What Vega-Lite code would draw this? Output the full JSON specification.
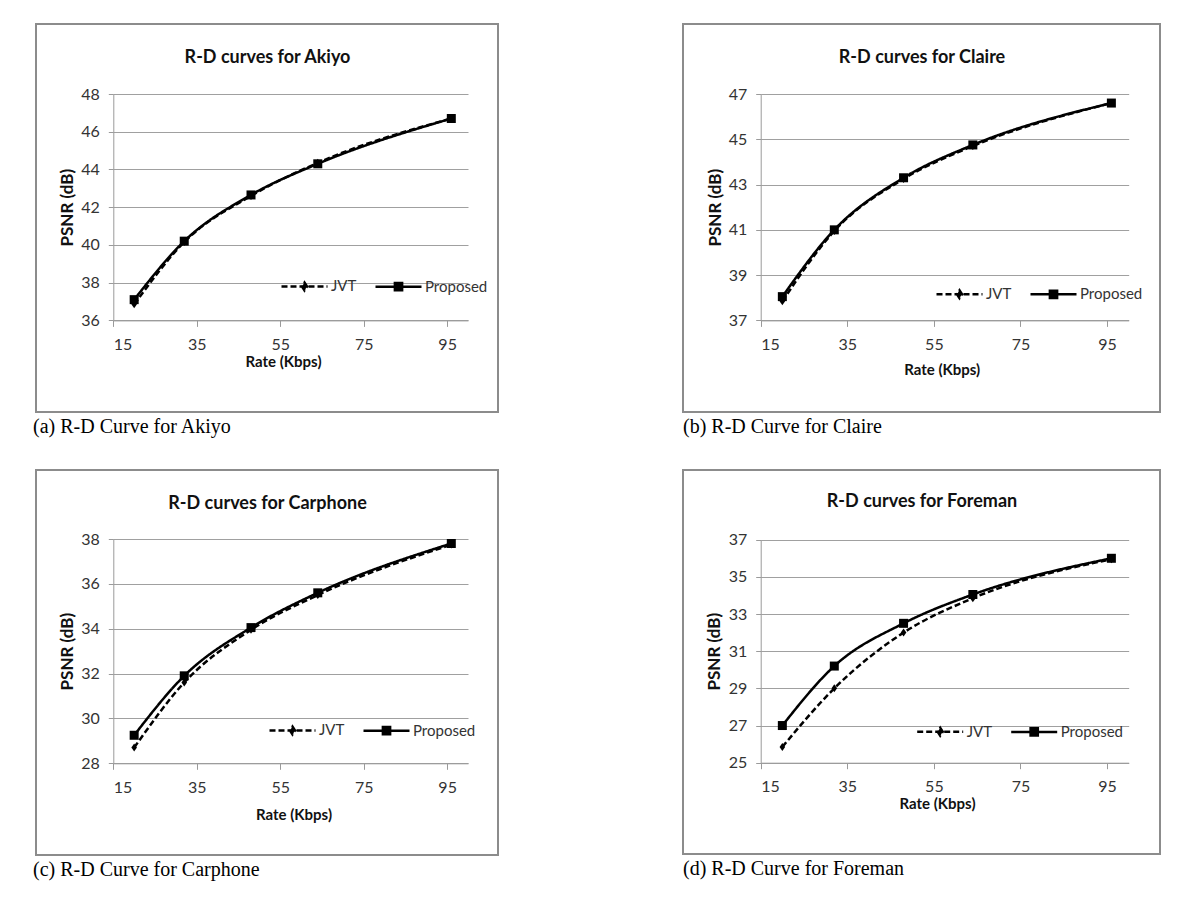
{
  "$schema": "https://vega.github.io/schema/vega-lite/v6.json",
  "background": "white",
  "padding": {"left": 32, "top": 23, "right": 0, "bottom": 0},
  "config": {
    "view": {"stroke": "#8c8c8c", "strokeWidth": 2},
    "axis": {
      "gridColor": "#a0a0a0", "domainColor": "#9a9a9a", "tickColor": "#9a9a9a",
      "labelFont": "Lato", "labelFontSize": 16, "labelColor": "#333333",
      "titleFont": "Lato", "titleFontWeight": "bold", "titleColor": "#111111"
    },
    "legend": {"labelFont": "Lato", "labelFontSize": 15, "labelColor": "#333333"}
  },
  "spacing": 31,
  "resolve": {"scale": {"strokeDash": "independent"}, "legend": {"strokeDash": "independent"}},
  "vconcat": [
    {
      "spacing": 183,
      "resolve": {"scale": {"strokeDash": "independent"}, "legend": {"strokeDash": "independent"}},
      "hconcat": [
        {
          "width": 462, "height": 388,
          "data": {"values": [
            {"rate": 20, "psnr": 36.85, "series": "JVT"},
            {"rate": 32, "psnr": 40.15, "series": "JVT"},
            {"rate": 48, "psnr": 42.6, "series": "JVT"},
            {"rate": 64, "psnr": 44.35, "series": "JVT"},
            {"rate": 96, "psnr": 46.7, "series": "JVT"},
            {"rate": 20, "psnr": 37.1, "series": "Proposed"},
            {"rate": 32, "psnr": 40.2, "series": "Proposed"},
            {"rate": 48, "psnr": 42.65, "series": "Proposed"},
            {"rate": 64, "psnr": 44.3, "series": "Proposed"},
            {"rate": 96, "psnr": 46.7, "series": "Proposed"}
          ]},
          "title": {"text": "(a) R-D Curve for Akiyo", "orient": "bottom", "anchor": "start", "offset": 5, "dx": -3, "font": "Liberation Serif", "fontSize": 20, "fontWeight": "normal", "color": "#000000"},
          "layer": [
            {
              "mark": {"type": "line", "color": "black", "strokeWidth": 2.5, "interpolate": "monotone"},
              "encoding": {
                "x": {"field": "rate", "type": "quantitative",
                  "scale": {"domain": [15, 100], "range": [77.3, 432], "nice": false, "zero": false},
                  "axis": {"orient": "bottom", "offset": -91.6, "values": [15, 35, 55, 75, 95], "grid": false, "tickSize": 6, "labelPadding": 10,
                    "title": "Rate (Kbps)", "titleFontSize": 15, "titleX": 247, "titleY": 46, "titleAlign": "center", "titleBaseline": "alphabetic"}},
                "y": {"field": "psnr", "type": "quantitative",
                  "scale": {"domain": [36, 48], "range": [296.4, 70], "nice": false, "zero": false},
                  "axis": {"offset": -77.3, "values": [36, 38, 40, 42, 44, 46, 48], "grid": true, "tickSize": 5, "labelPadding": 9,
                    "title": "PSNR (dB)", "titleFontSize": 17, "titleX": -36.5, "titleAngle": 270, "titleBaseline": "bottom"}},
                "strokeDash": {"field": "series", "type": "nominal",
                  "scale": {"domain": ["JVT", "Proposed"], "range": [[6, 3], [1, 0]]},
                  "legend": {"title": null, "orient": "none", "legendX": 244, "legendY": 237.7, "direction": "horizontal", "padding": 0,
                    "symbolSize": 2116, "symbolStrokeWidth": 2.5, "symbolStrokeColor": "black", "labelOffset": 2, "columnPadding": 13,
                    "encode": {"symbols": {"update": {
                      "shape": {"signal": "datum.value === 'JVT' ? 'M-1,0L1,0M0,-0.17L0.11,0L0,0.17L-0.11,0Z' : 'M-1,0L1,0M-0.157,-0.157L0.157,-0.157L0.157,0.157L-0.157,0.157Z'"},
                      "fill": {"value": "black"}, "stroke": {"value": "black"}, "opacity": {"value": 1}}}}}}
              }
            },
            {
              "transform": [{"filter": "datum.series === 'JVT'"}],
              "mark": {"type": "point", "filled": true, "color": "black", "size": 64, "opacity": 1, "shape": "M0,-1L0.7,0L0,1L-0.7,0Z"},
              "encoding": {
                "x": {"field": "rate", "type": "quantitative",
                  "axis": {"orient": "top", "labels": false, "ticks": false, "domain": false, "grid": false,
                    "title": "R-D curves for Akiyo", "titleFontSize": 18, "titleX": 231, "titleY": 38.4, "titleAlign": "center", "titleBaseline": "alphabetic", "titleAngle": 0}},
                "y": {"field": "psnr", "type": "quantitative"}
              }
            },
            {
              "transform": [{"filter": "datum.series === 'Proposed'"}],
              "mark": {"type": "point", "filled": true, "color": "black", "size": 81, "opacity": 1, "shape": "square"},
              "encoding": {
                "x": {"field": "rate", "type": "quantitative", "axis": null},
                "y": {"field": "psnr", "type": "quantitative"}
              }
            }
          ],
          "resolve": {"axis": {"x": "independent"}}
        },
        {
          "width": 477, "height": 388,
          "data": {"values": [
            {"rate": 20, "psnr": 37.85, "series": "JVT"},
            {"rate": 32, "psnr": 40.95, "series": "JVT"},
            {"rate": 48, "psnr": 43.25, "series": "JVT"},
            {"rate": 64, "psnr": 44.7, "series": "JVT"},
            {"rate": 96, "psnr": 46.6, "series": "JVT"},
            {"rate": 20, "psnr": 38.05, "series": "Proposed"},
            {"rate": 32, "psnr": 41.0, "series": "Proposed"},
            {"rate": 48, "psnr": 43.3, "series": "Proposed"},
            {"rate": 64, "psnr": 44.75, "series": "Proposed"},
            {"rate": 96, "psnr": 46.6, "series": "Proposed"}
          ]},
          "title": {"text": "(b) R-D Curve for Claire", "orient": "bottom", "anchor": "start", "offset": 5, "font": "Liberation Serif", "fontSize": 20, "fontWeight": "normal", "color": "#000000"},
          "layer": [
            {
              "mark": {"type": "line", "color": "black", "strokeWidth": 2.5, "interpolate": "monotone"},
              "encoding": {
                "x": {"field": "rate", "type": "quantitative",
                  "scale": {"domain": [15, 100], "range": [77.7, 445.7], "nice": false, "zero": false},
                  "axis": {"orient": "bottom", "offset": -91.6, "values": [15, 35, 55, 75, 95], "grid": false, "tickSize": 6, "labelPadding": 10,
                    "title": "Rate (Kbps)", "titleFontSize": 15, "titleX": 258.7, "titleY": 54.3, "titleAlign": "center", "titleBaseline": "alphabetic"}},
                "y": {"field": "psnr", "type": "quantitative",
                  "scale": {"domain": [37, 47], "range": [296.4, 70], "nice": false, "zero": false},
                  "axis": {"offset": -77.7, "values": [37, 39, 41, 43, 45, 47], "grid": true, "tickSize": 5, "labelPadding": 9,
                    "title": "PSNR (dB)", "titleFontSize": 17, "titleX": -36.5, "titleAngle": 270, "titleBaseline": "bottom"}},
                "strokeDash": {"field": "series", "type": "nominal",
                  "scale": {"domain": ["JVT", "Proposed"], "range": [[6, 3], [1, 0]]},
                  "legend": {"title": null, "orient": "none", "legendX": 252, "legendY": 245.4, "direction": "horizontal", "padding": 0,
                    "symbolSize": 2116, "symbolStrokeWidth": 2.5, "symbolStrokeColor": "black", "labelOffset": 2, "columnPadding": 13,
                    "encode": {"symbols": {"update": {
                      "shape": {"signal": "datum.value === 'JVT' ? 'M-1,0L1,0M0,-0.17L0.11,0L0,0.17L-0.11,0Z' : 'M-1,0L1,0M-0.157,-0.157L0.157,-0.157L0.157,0.157L-0.157,0.157Z'"},
                      "fill": {"value": "black"}, "stroke": {"value": "black"}, "opacity": {"value": 1}}}}}}
              }
            },
            {
              "transform": [{"filter": "datum.series === 'JVT'"}],
              "mark": {"type": "point", "filled": true, "color": "black", "size": 64, "opacity": 1, "shape": "M0,-1L0.7,0L0,1L-0.7,0Z"},
              "encoding": {
                "x": {"field": "rate", "type": "quantitative",
                  "axis": {"orient": "top", "labels": false, "ticks": false, "domain": false, "grid": false,
                    "title": "R-D curves for Claire", "titleFontSize": 18, "titleX": 238.5, "titleY": 38.4, "titleAlign": "center", "titleBaseline": "alphabetic", "titleAngle": 0}},
                "y": {"field": "psnr", "type": "quantitative"}
              }
            },
            {
              "transform": [{"filter": "datum.series === 'Proposed'"}],
              "mark": {"type": "point", "filled": true, "color": "black", "size": 81, "opacity": 1, "shape": "square"},
              "encoding": {
                "x": {"field": "rate", "type": "quantitative", "axis": null},
                "y": {"field": "psnr", "type": "quantitative"}
              }
            }
          ],
          "resolve": {"axis": {"x": "independent"}}
        }
      ]
    },
    {
      "spacing": 183,
      "resolve": {"scale": {"strokeDash": "independent"}, "legend": {"strokeDash": "independent"}},
      "hconcat": [
        {
          "width": 462, "height": 385,
          "data": {"values": [
            {"rate": 20, "psnr": 28.7, "series": "JVT"},
            {"rate": 32, "psnr": 31.6, "series": "JVT"},
            {"rate": 48, "psnr": 33.95, "series": "JVT"},
            {"rate": 64, "psnr": 35.5, "series": "JVT"},
            {"rate": 96, "psnr": 37.75, "series": "JVT"},
            {"rate": 20, "psnr": 29.25, "series": "Proposed"},
            {"rate": 32, "psnr": 31.9, "series": "Proposed"},
            {"rate": 48, "psnr": 34.05, "series": "Proposed"},
            {"rate": 64, "psnr": 35.6, "series": "Proposed"},
            {"rate": 96, "psnr": 37.8, "series": "Proposed"}
          ]},
          "title": {"text": "(c) R-D Curve for Carphone", "orient": "bottom", "anchor": "start", "offset": 5, "dx": -3, "font": "Liberation Serif", "fontSize": 20, "fontWeight": "normal", "color": "#000000"},
          "layer": [
            {
              "mark": {"type": "line", "color": "black", "strokeWidth": 2.5, "interpolate": "monotone"},
              "encoding": {
                "x": {"field": "rate", "type": "quantitative",
                  "scale": {"domain": [15, 100], "range": [77.3, 432], "nice": false, "zero": false},
                  "axis": {"orient": "bottom", "offset": -91.7, "values": [15, 35, 55, 75, 95], "grid": false, "tickSize": 6, "labelPadding": 10,
                    "title": "Rate (Kbps)", "titleFontSize": 15, "titleX": 257.5, "titleY": 56, "titleAlign": "center", "titleBaseline": "alphabetic"}},
                "y": {"field": "psnr", "type": "quantitative",
                  "scale": {"domain": [28, 38], "range": [293.3, 69], "nice": false, "zero": false},
                  "axis": {"offset": -77.3, "values": [28, 30, 32, 34, 36, 38], "grid": true, "tickSize": 5, "labelPadding": 9,
                    "title": "PSNR (dB)", "titleFontSize": 17, "titleX": -36.5, "titleAngle": 270, "titleBaseline": "bottom"}},
                "strokeDash": {"field": "series", "type": "nominal",
                  "scale": {"domain": ["JVT", "Proposed"], "range": [[6, 3], [1, 0]]},
                  "legend": {"title": null, "orient": "none", "legendX": 232, "legendY": 235.7, "direction": "horizontal", "padding": 0,
                    "symbolSize": 2116, "symbolStrokeWidth": 2.5, "symbolStrokeColor": "black", "labelOffset": 2, "columnPadding": 13,
                    "encode": {"symbols": {"update": {
                      "shape": {"signal": "datum.value === 'JVT' ? 'M-1,0L1,0M0,-0.17L0.11,0L0,0.17L-0.11,0Z' : 'M-1,0L1,0M-0.157,-0.157L0.157,-0.157L0.157,0.157L-0.157,0.157Z'"},
                      "fill": {"value": "black"}, "stroke": {"value": "black"}, "opacity": {"value": 1}}}}}}
              }
            },
            {
              "transform": [{"filter": "datum.series === 'JVT'"}],
              "mark": {"type": "point", "filled": true, "color": "black", "size": 64, "opacity": 1, "shape": "M0,-1L0.7,0L0,1L-0.7,0Z"},
              "encoding": {
                "x": {"field": "rate", "type": "quantitative",
                  "axis": {"orient": "top", "labels": false, "ticks": false, "domain": false, "grid": false,
                    "title": "R-D curves for Carphone", "titleFontSize": 18, "titleX": 231, "titleY": 38.3, "titleAlign": "center", "titleBaseline": "alphabetic", "titleAngle": 0}},
                "y": {"field": "psnr", "type": "quantitative"}
              }
            },
            {
              "transform": [{"filter": "datum.series === 'Proposed'"}],
              "mark": {"type": "point", "filled": true, "color": "black", "size": 81, "opacity": 1, "shape": "square"},
              "encoding": {
                "x": {"field": "rate", "type": "quantitative", "axis": null},
                "y": {"field": "psnr", "type": "quantitative"}
              }
            }
          ],
          "resolve": {"axis": {"x": "independent"}}
        },
        {
          "width": 477, "height": 384,
          "data": {"values": [
            {"rate": 20, "psnr": 25.85, "series": "JVT"},
            {"rate": 32, "psnr": 29.0, "series": "JVT"},
            {"rate": 48, "psnr": 32.0, "series": "JVT"},
            {"rate": 64, "psnr": 33.85, "series": "JVT"},
            {"rate": 96, "psnr": 35.95, "series": "JVT"},
            {"rate": 20, "psnr": 27.0, "series": "Proposed"},
            {"rate": 32, "psnr": 30.2, "series": "Proposed"},
            {"rate": 48, "psnr": 32.5, "series": "Proposed"},
            {"rate": 64, "psnr": 34.05, "series": "Proposed"},
            {"rate": 96, "psnr": 36.0, "series": "Proposed"}
          ]},
          "title": {"text": "(d) R-D Curve for Foreman", "orient": "bottom", "anchor": "start", "offset": 5, "font": "Liberation Serif", "fontSize": 20, "fontWeight": "normal", "color": "#000000"},
          "layer": [
            {
              "mark": {"type": "line", "color": "black", "strokeWidth": 2.5, "interpolate": "monotone"},
              "encoding": {
                "x": {"field": "rate", "type": "quantitative",
                  "scale": {"domain": [15, 100], "range": [77.7, 445.7], "nice": false, "zero": false},
                  "axis": {"orient": "bottom", "offset": -91.3, "values": [15, 35, 55, 75, 95], "grid": false, "tickSize": 6, "labelPadding": 10,
                    "title": "Rate (Kbps)", "titleFontSize": 15, "titleX": 254, "titleY": 45.5, "titleAlign": "center", "titleBaseline": "alphabetic"}},
                "y": {"field": "psnr", "type": "quantitative",
                  "scale": {"domain": [25, 37], "range": [292.7, 69.7], "nice": false, "zero": false},
                  "axis": {"offset": -77.7, "values": [25, 27, 29, 31, 33, 35, 37], "grid": true, "tickSize": 5, "labelPadding": 9,
                    "title": "PSNR (dB)", "titleFontSize": 17, "titleX": -37.5, "titleAngle": 270, "titleBaseline": "bottom"}},
                "strokeDash": {"field": "series", "type": "nominal",
                  "scale": {"domain": ["JVT", "Proposed"], "range": [[6, 3], [1, 0]]},
                  "legend": {"title": null, "orient": "none", "legendX": 232.7, "legendY": 237, "direction": "horizontal", "padding": 0,
                    "symbolSize": 2116, "symbolStrokeWidth": 2.5, "symbolStrokeColor": "black", "labelOffset": 2, "columnPadding": 13,
                    "encode": {"symbols": {"update": {
                      "shape": {"signal": "datum.value === 'JVT' ? 'M-1,0L1,0M0,-0.17L0.11,0L0,0.17L-0.11,0Z' : 'M-1,0L1,0M-0.157,-0.157L0.157,-0.157L0.157,0.157L-0.157,0.157Z'"},
                      "fill": {"value": "black"}, "stroke": {"value": "black"}, "opacity": {"value": 1}}}}}}
              }
            },
            {
              "transform": [{"filter": "datum.series === 'JVT'"}],
              "mark": {"type": "point", "filled": true, "color": "black", "size": 64, "opacity": 1, "shape": "M0,-1L0.7,0L0,1L-0.7,0Z"},
              "encoding": {
                "x": {"field": "rate", "type": "quantitative",
                  "axis": {"orient": "top", "labels": false, "ticks": false, "domain": false, "grid": false,
                    "title": "R-D curves for Foreman", "titleFontSize": 18, "titleX": 238.5, "titleY": 36.7, "titleAlign": "center", "titleBaseline": "alphabetic", "titleAngle": 0}},
                "y": {"field": "psnr", "type": "quantitative"}
              }
            },
            {
              "transform": [{"filter": "datum.series === 'Proposed'"}],
              "mark": {"type": "point", "filled": true, "color": "black", "size": 81, "opacity": 1, "shape": "square"},
              "encoding": {
                "x": {"field": "rate", "type": "quantitative", "axis": null},
                "y": {"field": "psnr", "type": "quantitative"}
              }
            }
          ],
          "resolve": {"axis": {"x": "independent"}}
        }
      ]
    }
  ]
}
